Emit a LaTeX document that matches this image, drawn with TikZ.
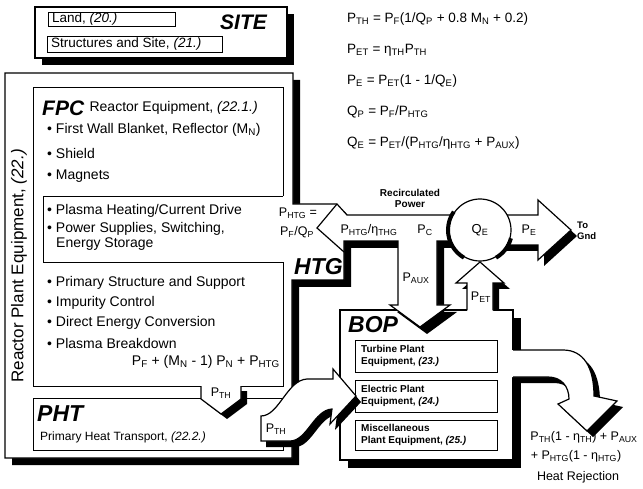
\documentclass[tikz,border=0pt]{standalone}
\usepackage{fontspec}
\setmainfont{Liberation Sans}
\newcommand{\sbs}[1]{\textsubscript{#1}}
\newcommand{\Rshape}{(5,73) -- (293,73) -- (293,204) -- (337,204) -- (347,215) -- (456,215) -- (456,241) -- (437,241) -- (437,305) -- (450,305) -- (420,327) -- (390,305) -- (398,305) -- (398,241) -- (344,241) -- (344,280) -- (292,280) -- (292,458) -- (5,458) -- cycle}
\newcommand{\Cshape}{(261,416) .. controls (279,416) and (287,380) .. (307,379) -- (333,379) -- (333,369) -- (356,396) -- (330,424) -- (332,409) .. controls (314,410) and (307,441) .. (290,441) -- (261,441) -- cycle}
\newcommand{\Hshape}{(511,350) -- (563,350) .. controls (584,350) and (594,368) .. (594,396) -- (617,401) -- (587,431) -- (558,404) -- (569,399) .. controls (569,386) and (561,377) .. (548,377) -- (511,377) -- cycle}
\begin{document}
\begin{tikzpicture}[x=1pt,y=-1pt,line join=miter,
  outl/.style={draw=black,line width=1.2pt},
  thinl/.style={draw=black,line width=0.9pt},
  ttl/.style={font=\fontsize{23}{23}\selectfont\bfseries\itshape,inner sep=0pt,anchor=west},
  body/.style={font=\fontsize{14}{16}\selectfont,inner sep=0pt,anchor=west},
  eqn/.style={font=\fontsize{13.5}{15}\selectfont,inner sep=0pt,anchor=west},
  lbl/.style={font=\fontsize{12.5}{14}\selectfont,inner sep=0pt},
  smallb/.style={font=\fontsize{10}{12}\selectfont\bfseries,inner sep=0pt,align=left,anchor=west},
  sbox/.style={draw=black,line width=0.9pt,inner sep=0pt,anchor=north west},
]
\useasboundingbox (0,0) rectangle (643,489);
\fill[white] (0,0) rectangle (643,489);

% SITE
\fill (42,14) rectangle (294,65);
\filldraw[fill=white,outl] (35,7) rectangle (287,58);
\draw[line width=2.5pt] (34,7) -- (288,7);
\node[sbox,minimum width=127pt,minimum height=14pt] (landbox) at (48,12) {};
\node[body,font=\fontsize{13.5}{15}\selectfont] (land) at (52,19.5) {Land, \textit{(20.)}};
\node[sbox,minimum width=175pt,minimum height=16pt] (structbox) at (47,36) {};
\node[body,font=\fontsize{13.5}{15}\selectfont] (struct) at (51,44.5) {Structures and Site, \textit{(21.)}};
\node[ttl,font=\fontsize{21}{21}\selectfont\bfseries\itshape] (site) at (220,22) {SITE};

% equations
\node[eqn] (eq1) at (347,19) {P\sbs{TH} = P\sbs{F}(1/Q\sbs{P} + 0.8 M\sbs{N} + 0.2)};
\node[eqn] (eq2) at (347,50) {P\sbs{ET} = η\sbs{TH}P\sbs{TH}};
\node[eqn] (eq3) at (347,81) {P\sbs{E} = P\sbs{ET}(1 - 1/Q\sbs{E})};
\node[eqn] (eq4) at (347,112) {Q\sbs{P} = P\sbs{F}/P\sbs{HTG}};
\node[eqn] (eq5) at (347,143) {Q\sbs{E} = P\sbs{ET}/(P\sbs{HTG}/η\sbs{HTG} + P\sbs{AUX})};

% BOP
\fill (348,318) rectangle (521,468);
\filldraw[fill=white,outl] (340,310) rectangle (513,460);

% reactor + recirculated band
\fill[shift={(7,7)}] \Rshape;
\fill[white] \Rshape;
\draw[outl] \Rshape;
\draw[outl] (337,204) -- (317,228) -- (344,252);

% FPC, HTG, PHT
\draw[thinl] (283,196) -- (283,87) -- (33,87) -- (33,386) -- (201,386);
\draw[thinl] (241,386) -- (283,386) -- (283,262);
\draw[thinl] (283,196) -- (43,196) -- (43,262) -- (283,262);
\draw[thinl] (33,398) rectangle (283,450);

\node[font=\fontsize{17}{17}\selectfont,rotate=90,inner sep=0pt] (rpe) at (19,266) {Reactor Plant Equipment, \textit{(22.)}};
\node[ttl,font=\fontsize{21}{21}\selectfont\bfseries\itshape] (fpc) at (42,108) {FPC};
\node[body] (fpcsub) at ([xshift=5pt]fpc.east) {Reactor Equipment, \textit{(22.1.)}};
\node[body] (b1) at (47,130) {• First Wall Blanket, Reflector (M\sbs{N})};
\node[body] (b2) at (47,153) {• Shield};
\node[body] (b3) at (47,176) {• Magnets};
\node[body] (b4) at (47,211) {• Plasma Heating/Current Drive};
\node[body] (b5) at (47,229) {• Power Supplies, Switching,};
\node[body] (b6) at (56,244) {Energy Storage};
\node[body] (b7) at (47,283) {• Primary Structure and Support};
\node[body] (b8) at (47,303) {• Impurity Control};
\node[body] (b9) at (47,323) {• Direct Energy Conversion};
\node[body] (b10) at (47,343) {• Plasma Breakdown};
\node[body,anchor=east] (pform) at (280,362) {P\sbs{F} + (M\sbs{N} - 1) P\sbs{N} + P\sbs{HTG}};

\node[ttl] (htg) at (294,267) {HTG};
\node[lbl] (phtg1) at (298,213) {P\sbs{HTG} =};
\node[lbl] (phtg2) at (297,232) {P\sbs{F}/Q\sbs{P}};
\node[lbl] (phtgeta) at (369,230) {P\sbs{HTG}/η\sbs{THG}};
\node[lbl] (pc) at (425,230) {P\sbs{C}};
\node[font=\fontsize{10}{11}\selectfont\bfseries,align=center,inner sep=0pt] (recirc) at (410,198) {Recirculated\\Power};
\node[lbl] (paux) at (416,278) {P\sbs{AUX}};

\node[ttl] (pht) at (37,414) {PHT};
\node[body,font=\fontsize{12}{14}\selectfont] (phtsub) at (40,437) {Primary Heat Transport, \textit{(22.2.)}};

% BOP contents
\node[ttl] (bop) at (348,325) {BOP};
\node[sbox,minimum width=142pt,minimum height=32pt] (turbbox) at (355,340) {};
\node[smallb] (turb) at (361,356) {Turbine Plant\\Equipment, \textit{(23.)}};
\node[sbox,minimum width=142pt,minimum height=32pt] (elecbox) at (355,380) {};
\node[smallb] (elec) at (361,396) {Electric Plant\\Equipment, \textit{(24.)}};
\node[sbox,minimum width=142pt,minimum height=30pt] (miscbox) at (355,420) {};
\node[smallb] (misc) at (361,435) {Miscellaneous\\Plant Equipment, \textit{(25.)}};

% P_TH down arrow
\fill[shift={(6,5)}] (201,386) -- (201,399) -- (221,414) -- (241,399) -- (241,386) -- cycle;
\fill[white] (201,381) -- (201,399) -- (221,414) -- (241,399) -- (241,381) -- cycle;
\draw[outl] (201,386) -- (201,399) -- (221,414) -- (241,399) -- (241,386);
\node[lbl] (pth1) at (221,393) {P\sbs{TH}};

% curved P_TH arrow
\fill[shift={(5,6)}] \Cshape;
\fill[white] \Cshape;
\draw[outl] \Cshape;
\node[lbl] (pth2) at (276,429) {P\sbs{TH}};

% heat rejection arrow
\fill[shift={(6,6)}] \Hshape;
\fill[white] \Hshape;
\draw[outl] (513,350) -- (563,350) .. controls (584,350) and (594,368) .. (594,396) -- (617,401) -- (587,431) -- (558,404) -- (569,399) .. controls (569,386) and (561,377) .. (548,377) -- (513,377);

% P_ET arrow
\begin{scope}
\clip (0,0) rectangle (643,310);
\fill[shift={(6,6)}] (467,312) -- (467,283) -- (456,283) -- (480,262) -- (504,283) -- (493,283) -- (493,312) -- cycle;
\end{scope}
\fill[white] (467,312) -- (467,283) -- (456,283) -- (480,262) -- (504,283) -- (493,283) -- (493,312) -- cycle;
\draw[outl] (467,310.5) -- (467,283) -- (456,283) -- (480,262) -- (504,283) -- (493,283) -- (493,310.5);
\node[lbl] (pet) at (481,297) {P\sbs{ET}};

% P_E arrow
\fill[shift={(6,6)}] (500,215) -- (538,215) -- (538,200) -- (571,230) -- (538,260) -- (538,245) -- (500,245) -- cycle;
\filldraw[fill=white,outl] (500,215) -- (538,215) -- (538,200) -- (571,230) -- (538,260) -- (538,245) -- (500,245) -- cycle;
\node[lbl] (pe) at (529,230) {P\sbs{E}};
\node[font=\fontsize{9.5}{10.5}\selectfont\bfseries,align=left,inner sep=0pt,anchor=west] (gnd) at (577,231) {To\\Gnd};

% Q_E circle
\fill[white] (480,230) circle[radius=31];
\draw[outl] (480,230) circle[radius=31];
\draw[line width=4pt] (480,230) ++(120:32) arc[start angle=120,end angle=215,radius=32];
\draw[line width=4pt] (480,230) ++(15:32) arc[start angle=15,end angle=60,radius=32];
\node[font=\fontsize{13}{14}\selectfont,inner sep=0pt] (qe) at (480,230) {Q\sbs{E}};

% heat rejection text
\node[lbl] (hr1) at (584,437) {P\sbs{TH}(1 - η\sbs{TH}) + P\sbs{AUX}};
\node[lbl] (hr2) at (576,456) {+ P\sbs{HTG}(1 - η\sbs{HTG})};
\node[lbl] (hr3) at (578,477) {Heat Rejection};
\end{tikzpicture}
\end{document}
